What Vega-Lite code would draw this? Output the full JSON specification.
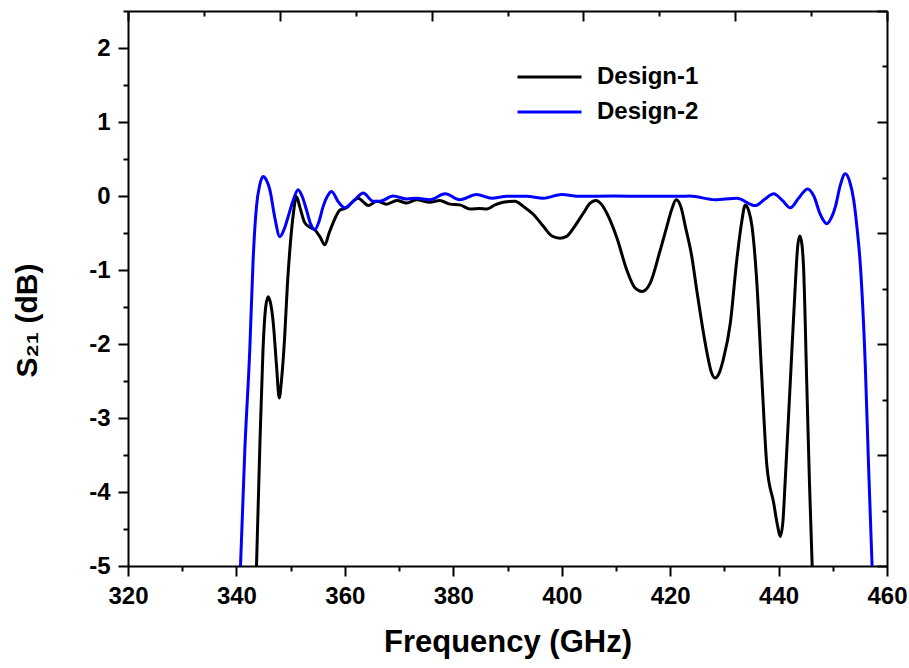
{
  "$schema": "https://vega.github.io/schema/vega-lite/v6.json",
  "width": 759,
  "height": 555,
  "autosize": {"type": "none"},
  "padding": {"left": 128, "top": 11, "right": 22, "bottom": 102},
  "config": {
    "view": {"stroke": null},
    "font": "Liberation Sans",
    "axis": {
      "domainColor": "black", "domainWidth": 2, "tickColor": "black", "tickWidth": 2,
      "labelColor": "black", "labelFont": "Liberation Sans", "labelFontWeight": "bold", "labelFontSize": 24,
      "titleColor": "black", "titleFont": "Liberation Sans", "titleFontWeight": "bold", "titleFontSize": 30,
      "grid": false, "labelOverlap": false, "labelBound": false, "labelFlush": false
    }
  },
  "layer": [
    {
      "data": {"values": [
        {"s":"Design-1","f":343.7,"v":-5},{"s":"Design-1","f":344.3,"v":-3.43},{"s":"Design-1","f":344.9,"v":-2.08},{"s":"Design-1","f":345.4,"v":-1.5},{"s":"Design-1","f":345.85,"v":-1.36},{"s":"Design-1","f":346.3,"v":-1.45},{"s":"Design-1","f":346.8,"v":-1.72},{"s":"Design-1","f":347.4,"v":-2.3},{"s":"Design-1","f":347.9,"v":-2.73},{"s":"Design-1","f":348.3,"v":-2.5},{"s":"Design-1","f":348.9,"v":-1.9},{"s":"Design-1","f":349.4,"v":-1.2},{"s":"Design-1","f":349.85,"v":-0.73},{"s":"Design-1","f":350.4,"v":-0.3},{"s":"Design-1","f":351.1,"v":-0.01},{"s":"Design-1","f":351.7,"v":-0.15},{"s":"Design-1","f":352.6,"v":-0.36},{"s":"Design-1","f":353.5,"v":-0.42},{"s":"Design-1","f":354.5,"v":-0.46},{"s":"Design-1","f":355.4,"v":-0.55},{"s":"Design-1","f":356.3,"v":-0.66},{"s":"Design-1","f":357.1,"v":-0.5},{"s":"Design-1","f":357.85,"v":-0.36},{"s":"Design-1","f":359.1,"v":-0.19},{"s":"Design-1","f":360.3,"v":-0.16},{"s":"Design-1","f":361.4,"v":-0.08},{"s":"Design-1","f":362.5,"v":-0.03},{"s":"Design-1","f":363.4,"v":-0.08},{"s":"Design-1","f":364.3,"v":-0.13},{"s":"Design-1","f":365.9,"v":-0.07},{"s":"Design-1","f":367.7,"v":-0.11},{"s":"Design-1","f":369.6,"v":-0.06},{"s":"Design-1","f":371.4,"v":-0.095},{"s":"Design-1","f":373.2,"v":-0.05},{"s":"Design-1","f":375.7,"v":-0.085},{"s":"Design-1","f":377.5,"v":-0.06},{"s":"Design-1","f":379.4,"v":-0.11},{"s":"Design-1","f":381.2,"v":-0.12},{"s":"Design-1","f":383.1,"v":-0.175},{"s":"Design-1","f":384.9,"v":-0.17},{"s":"Design-1","f":386.2,"v":-0.175},{"s":"Design-1","f":387.7,"v":-0.12},{"s":"Design-1","f":389.2,"v":-0.085},{"s":"Design-1","f":391.4,"v":-0.07},{"s":"Design-1","f":392.9,"v":-0.14},{"s":"Design-1","f":394.8,"v":-0.25},{"s":"Design-1","f":396.6,"v":-0.41},{"s":"Design-1","f":398.2,"v":-0.54},{"s":"Design-1","f":399.7,"v":-0.57},{"s":"Design-1","f":400.9,"v":-0.545},{"s":"Design-1","f":402.2,"v":-0.43},{"s":"Design-1","f":404.0,"v":-0.23},{"s":"Design-1","f":405.2,"v":-0.1},{"s":"Design-1","f":406.3,"v":-0.06},{"s":"Design-1","f":407.3,"v":-0.11},{"s":"Design-1","f":408.3,"v":-0.23},{"s":"Design-1","f":410.2,"v":-0.57},{"s":"Design-1","f":412.0,"v":-1.0},{"s":"Design-1","f":413.5,"v":-1.24},{"s":"Design-1","f":414.8,"v":-1.29},{"s":"Design-1","f":416.3,"v":-1.18},{"s":"Design-1","f":418.1,"v":-0.75},{"s":"Design-1","f":419.4,"v":-0.41},{"s":"Design-1","f":420.3,"v":-0.18},{"s":"Design-1","f":421.1,"v":-0.05},{"s":"Design-1","f":422.0,"v":-0.15},{"s":"Design-1","f":422.8,"v":-0.41},{"s":"Design-1","f":424.0,"v":-0.82},{"s":"Design-1","f":424.9,"v":-1.27},{"s":"Design-1","f":425.85,"v":-1.72},{"s":"Design-1","f":426.8,"v":-2.12},{"s":"Design-1","f":427.6,"v":-2.38},{"s":"Design-1","f":428.3,"v":-2.46},{"s":"Design-1","f":429.0,"v":-2.4},{"s":"Design-1","f":429.8,"v":-2.21},{"s":"Design-1","f":431.1,"v":-1.72},{"s":"Design-1","f":432.3,"v":-0.86},{"s":"Design-1","f":433.2,"v":-0.35},{"s":"Design-1","f":433.85,"v":-0.12},{"s":"Design-1","f":434.5,"v":-0.2},{"s":"Design-1","f":435.1,"v":-0.41},{"s":"Design-1","f":436.0,"v":-1.18},{"s":"Design-1","f":436.9,"v":-2.44},{"s":"Design-1","f":437.85,"v":-3.65},{"s":"Design-1","f":439.1,"v":-4.15},{"s":"Design-1","f":439.8,"v":-4.45},{"s":"Design-1","f":440.3,"v":-4.6},{"s":"Design-1","f":440.8,"v":-4.4},{"s":"Design-1","f":441.2,"v":-3.88},{"s":"Design-1","f":442.15,"v":-2.53},{"s":"Design-1","f":443.1,"v":-1.18},{"s":"Design-1","f":443.5,"v":-0.7},{"s":"Design-1","f":443.9,"v":-0.54},{"s":"Design-1","f":444.3,"v":-0.65},{"s":"Design-1","f":444.6,"v":-0.95},{"s":"Design-1","f":445.2,"v":-2.53},{"s":"Design-1","f":445.7,"v":-3.88},{"s":"Design-1","f":446.2,"v":-5},
        {"s":"Design-2","f":340.75,"v":-5},{"s":"Design-2","f":341.55,"v":-3.43},{"s":"Design-2","f":342.46,"v":-2.08},{"s":"Design-2","f":343.08,"v":-0.86},{"s":"Design-2","f":343.7,"v":-0.14},{"s":"Design-2","f":344.3,"v":0.15},{"s":"Design-2","f":344.93,"v":0.265},{"s":"Design-2","f":345.5,"v":0.22},{"s":"Design-2","f":346.16,"v":0.085},{"s":"Design-2","f":347.1,"v":-0.3},{"s":"Design-2","f":348.0,"v":-0.55},{"s":"Design-2","f":348.8,"v":-0.45},{"s":"Design-2","f":349.54,"v":-0.28},{"s":"Design-2","f":350.5,"v":-0.05},{"s":"Design-2","f":351.38,"v":0.085},{"s":"Design-2","f":352.1,"v":0.0},{"s":"Design-2","f":352.93,"v":-0.19},{"s":"Design-2","f":353.7,"v":-0.38},{"s":"Design-2","f":354.47,"v":-0.455},{"s":"Design-2","f":355.2,"v":-0.35},{"s":"Design-2","f":356.0,"v":-0.14},{"s":"Design-2","f":356.8,"v":0.0},{"s":"Design-2","f":357.55,"v":0.06},{"s":"Design-2","f":358.8,"v":-0.08},{"s":"Design-2","f":360.0,"v":-0.16},{"s":"Design-2","f":361.0,"v":-0.11},{"s":"Design-2","f":361.85,"v":-0.05},{"s":"Design-2","f":363.4,"v":0.04},{"s":"Design-2","f":365.2,"v":-0.07},{"s":"Design-2","f":366.5,"v":-0.07},{"s":"Design-2","f":368.9,"v":0.0},{"s":"Design-2","f":371.4,"v":-0.04},{"s":"Design-2","f":373.2,"v":-0.03},{"s":"Design-2","f":375.7,"v":-0.05},{"s":"Design-2","f":378.5,"v":0.03},{"s":"Design-2","f":381.2,"v":-0.05},{"s":"Design-2","f":384.3,"v":0.02},{"s":"Design-2","f":387.1,"v":-0.03},{"s":"Design-2","f":389.9,"v":-0.005},{"s":"Design-2","f":393.5,"v":-0.005},{"s":"Design-2","f":396.6,"v":-0.03},{"s":"Design-2","f":400.0,"v":0.02},{"s":"Design-2","f":403.4,"v":-0.005},{"s":"Design-2","f":409.5,"v":0.0},{"s":"Design-2","f":415.7,"v":-0.005},{"s":"Design-2","f":421.8,"v":-0.005},{"s":"Design-2","f":423.6,"v":0.0},{"s":"Design-2","f":428.3,"v":-0.05},{"s":"Design-2","f":432.3,"v":-0.03},{"s":"Design-2","f":435.7,"v":-0.13},{"s":"Design-2","f":437.5,"v":-0.04},{"s":"Design-2","f":439.1,"v":0.03},{"s":"Design-2","f":440.7,"v":-0.06},{"s":"Design-2","f":442.15,"v":-0.16},{"s":"Design-2","f":443.8,"v":-0.02},{"s":"Design-2","f":445.35,"v":0.095},{"s":"Design-2","f":446.5,"v":0.0},{"s":"Design-2","f":447.7,"v":-0.25},{"s":"Design-2","f":448.9,"v":-0.375},{"s":"Design-2","f":449.7,"v":-0.3},{"s":"Design-2","f":450.5,"v":-0.14},{"s":"Design-2","f":451.4,"v":0.15},{"s":"Design-2","f":452.3,"v":0.3},{"s":"Design-2","f":453.1,"v":0.2},{"s":"Design-2","f":453.85,"v":-0.05},{"s":"Design-2","f":454.5,"v":-0.45},{"s":"Design-2","f":455.1,"v":-0.95},{"s":"Design-2","f":456.0,"v":-2.3},{"s":"Design-2","f":456.6,"v":-3.65},{"s":"Design-2","f":457.25,"v":-5}
      ]},
      "mark": {"type": "line", "strokeWidth": 3, "interpolate": "monotone", "clip": true},
      "encoding": {
        "x": {
          "field": "f", "type": "quantitative",
          "scale": {"domain": [320, 460], "nice": false, "zero": false},
          "axis": {
            "orient": "bottom",
            "values": [320,330,340,350,360,370,380,390,400,410,420,430,440,450,460],
            "labelExpr": "datum.value % 20 === 0 ? '' + datum.value : ''",
            "tickSize": {"condition": {"test": "datum.value % 20 === 0", "value": 10}, "value": 5},
            "labelPadding": 8,
            "title": "Frequency (GHz)",
            "titleFontSize": 31,
            "titlePadding": 19
          }
        },
        "y": {
          "field": "v", "type": "quantitative",
          "scale": {"domain": [-5, 2.5], "nice": false, "zero": false},
          "axis": {
            "orient": "left",
            "values": [-5,-4.5,-4,-3.5,-3,-2.5,-2,-1.5,-1,-0.5,0,0.5,1,1.5,2,2.5],
            "labelExpr": "datum.value % 1 === 0 ? '' + datum.value : ''",
            "tickSize": {"condition": {"test": "datum.value % 1 === 0", "value": 10}, "value": 5},
            "labelPadding": 8,
            "title": "S₂₁ (dB)",
            "titlePadding": 46,
            "titleY": 309
          }
        },
        "color": {
          "field": "s", "type": "nominal",
          "scale": {"domain": ["Design-1", "Design-2"], "range": ["#000000", "#0000ff"]},
          "legend": {
            "orient": "none", "legendX": 388, "legendY": 51, "title": null, "padding": 0,
            "symbolType": "stroke", "symbolSize": 4096, "symbolStrokeWidth": 3,
            "clipHeight": 30, "rowPadding": 5, "labelOffset": 14,
            "labelFont": "Liberation Sans", "labelFontWeight": "bold", "labelFontSize": 24, "labelColor": "black"
          }
        }
      }
    },
    {
      "data": {"values": [{}]},
      "mark": {"type": "point", "opacity": 0},
      "encoding": {
        "x": {
          "datum": 0, "type": "quantitative",
          "scale": {"domain": [0, 5], "nice": false, "zero": false},
          "axis": {
            "orient": "top", "title": null, "labels": false,
            "values": [0,0.5,1,1.5,2,2.5,3,3.5,4,4.5,5],
            "tickSize": {"condition": {"test": "datum.value % 1 === 0", "value": -10}, "value": -5}
          }
        },
        "y": {
          "datum": 0, "type": "quantitative",
          "scale": {"domain": [0, 5], "nice": false, "zero": false},
          "axis": {
            "orient": "right", "title": null, "labels": false,
            "values": [0,0.5,1,1.5,2,2.5,3,3.5,4,4.5,5],
            "tickSize": {"condition": {"test": "datum.value % 1 === 0", "value": -10}, "value": -5}
          }
        }
      }
    }
  ],
  "resolve": {"scale": {"x": "independent", "y": "independent", "color": "independent"}}
}
